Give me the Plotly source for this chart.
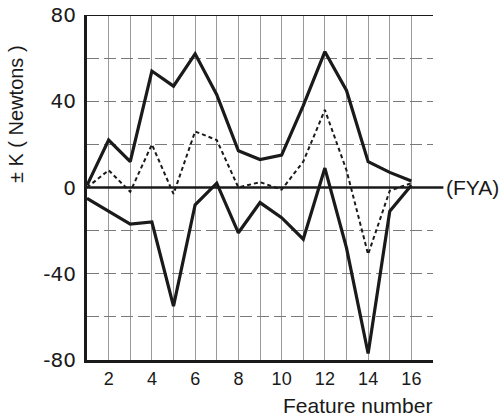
import plotly.graph_objects as go

feature = list(range(1, 17))
upper = [1, 22, 12, 54, 47, 62, 43, 17, 13, 15, 38, 63, 45, 12, 7, 3]
mean = [0, 8, -2, 20, -3, 26, 22, 0, 2.5, -1, 12, 36, 8, -31, -1.5, 2]
lower = [-5, -11, -17, -16, -55, -8, 2, -21, -7, -14, -24, 9, -28, -77, -11, 1]

x_ticks = [2, 4, 6, 8, 10, 12, 14, 16]
y_ticks = [-80, -40, 0, 40, 80]
y_ticktext = ["-80", "-40", "0", "40", "80"]

FONT = "Liberation Sans, Arial, sans-serif"
WIDE = "DejaVu Sans, Liberation Sans, sans-serif"
INK = "#1a1a1a"

fig = go.Figure()
fig.add_trace(go.Scatter(x=feature, y=upper, mode="lines",
                         line=dict(color=INK, width=3.2)))
fig.add_trace(go.Scatter(x=feature, y=mean, mode="lines",
                         line=dict(color=INK, width=2, dash="4px,3px")))
fig.add_trace(go.Scatter(x=feature, y=lower, mode="lines",
                         line=dict(color=INK, width=3.2)))

fig.update_layout(
    width=499, height=420,
    margin=dict(l=87, r=66, t=15, b=60, autoexpand=False),
    paper_bgcolor="white", plot_bgcolor="white",
    showlegend=False,
    font=dict(family=FONT, color=INK),
    xaxis=dict(
        range=[1, 17], tickvals=x_ticks, ticks="", showgrid=False,
        tickfont=dict(size=18, family=FONT), zeroline=False, automargin=False,
        showline=True, linecolor=INK, linewidth=3,
        minor=dict(tickvals=list(range(1, 17)), showgrid=True,
                   gridcolor="#9a9a9a", gridwidth=1),
    ),
    yaxis=dict(
        range=[-80, 80], tickvals=y_ticks, ticktext=y_ticktext, ticks="",
        tickfont=dict(size=20, family=WIDE), ticklabelstandoff=4,
        automargin=False,
        showgrid=True, gridcolor="#7a7a7a", gridwidth=1.2, griddash="12px,5px",
        zeroline=False, showline=True, linecolor=INK, linewidth=3,
        minor=dict(dtick=20, showgrid=True, gridcolor="#7a7a7a",
                   gridwidth=1.2, griddash="12px,5px"),
    ),
)

# top border and extended zero line
fig.add_shape(type="line", xref="paper", yref="y", x0=0, x1=1, y0=80, y1=80,
              line=dict(color=INK, width=2.2))
fig.add_shape(type="line", xref="paper", yref="y", x0=0, x1=1.03, y0=0, y1=0,
              line=dict(color=INK, width=2.5))

fig.add_annotation(text="(FYA)", xref="paper", yref="y", x=1.032, y=0,
                   xanchor="left", yanchor="middle", showarrow=False,
                   font=dict(size=21, family=FONT, color=INK))
fig.add_annotation(text="Feature number", xref="paper", yref="paper",
                   x=0.782, y=-0.132, xanchor="center", yanchor="middle",
                   showarrow=False, font=dict(size=21, family=FONT, color=INK))
fig.add_annotation(text="± K ( Newtons )", xref="paper", yref="paper",
                   x=-0.205, y=0.713, xanchor="center", yanchor="middle",
                   textangle=-90, showarrow=False,
                   font=dict(size=20, family=FONT, color=INK))

fig.write_html("out.html")
